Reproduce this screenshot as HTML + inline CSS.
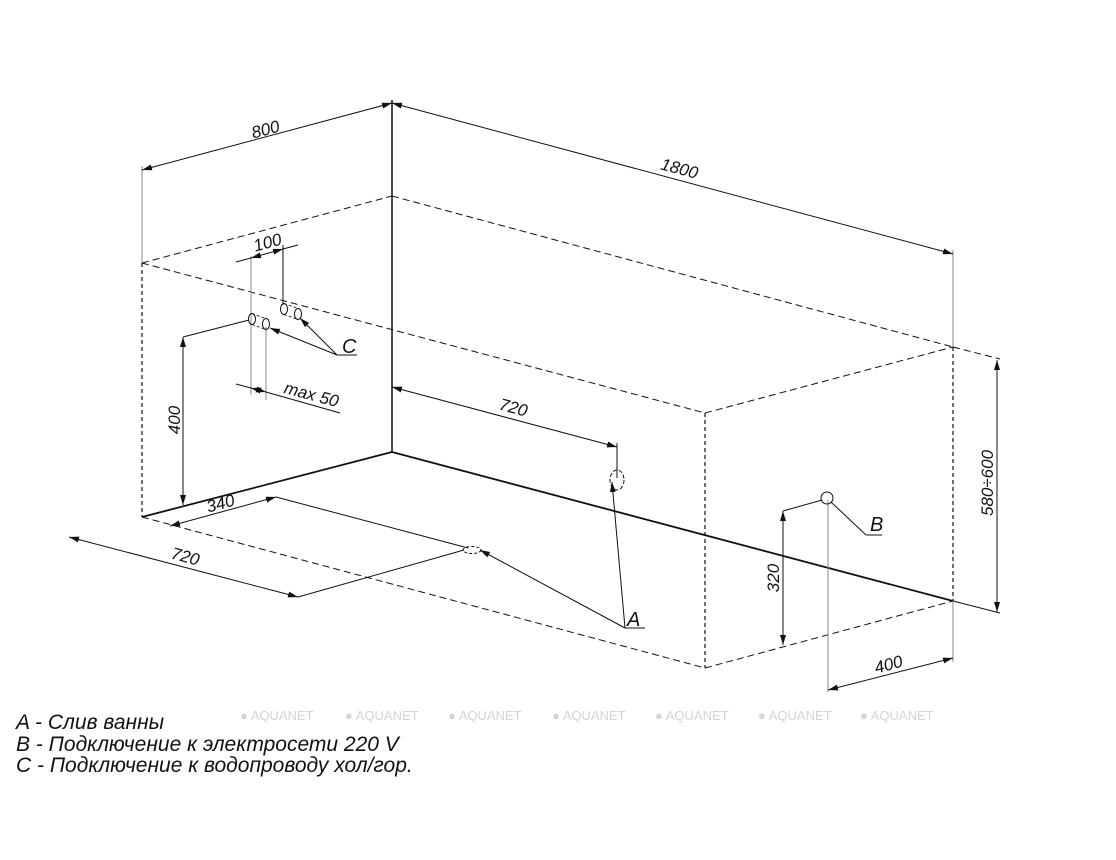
<!DOCTYPE html>
<html><head><meta charset="utf-8"><style>
html,body{margin:0;padding:0;background:#fff;}
svg{display:block;}
.t{font-family:"Liberation Sans",sans-serif;font-style:italic;fill:#111;}
.w{font-family:"Liberation Sans",sans-serif;fill:#d4d4d4;}
</style></head><body>
<svg width="1116" height="860" viewBox="0 0 1116 860" xmlns="http://www.w3.org/2000/svg">
<defs>
<marker id="ar" viewBox="0 0 10 6" refX="10" refY="3" markerWidth="10" markerHeight="6" orient="auto-start-reverse" markerUnits="userSpaceOnUse"><path d="M0,0 L10,3 L0,6 z" fill="#111"/></marker>
</defs>
<g stroke="#111" fill="none">
<g stroke-dasharray="7,4" stroke-width="1">
<line x1="142" y1="263" x2="392" y2="196"/>
<line x1="392" y1="196" x2="953" y2="347"/>
<line x1="142" y1="263" x2="705" y2="413"/>
<line x1="705" y1="413" x2="953" y2="347"/>
<line x1="142" y1="517" x2="705" y2="668"/>
<line x1="705" y1="668" x2="953" y2="601"/>
<line x1="953" y1="347" x2="1000" y2="359"/>
</g>
<g stroke-dasharray="4,3" stroke-width="1.2">
<line x1="142" y1="263" x2="142" y2="517"/>
<line x1="705" y1="413" x2="705" y2="668"/>
<line x1="953" y1="347" x2="953" y2="601"/>
</g>
<line x1="392" y1="100" x2="392" y2="452" stroke-width="1.5"/>
<line x1="142" y1="517" x2="392" y2="452" stroke-width="1.8"/>
<line x1="392" y1="452" x2="953" y2="601" stroke-width="1.8"/>
<line x1="953" y1="601" x2="1000" y2="613" stroke-width="1"/>
<line x1="142" y1="166" x2="142" y2="263" stroke="#888"/>
<line x1="953" y1="250" x2="953" y2="347" stroke="#888"/>
<line x1="953" y1="601" x2="953" y2="662" stroke="#888"/>
<line x1="828" y1="500" x2="828" y2="692" stroke="#888"/>
<line x1="251" y1="256" x2="251" y2="395" stroke="#888"/>
<line x1="266" y1="327" x2="266" y2="400" stroke="#888"/>
<line x1="283" y1="245" x2="283" y2="305"/>
<line x1="617" y1="443" x2="617" y2="478"/>
<line x1="142" y1="170" x2="392" y2="103" marker-start="url(#ar)" marker-end="url(#ar)"/>
<line x1="392" y1="103" x2="953" y2="254" marker-start="url(#ar)" marker-end="url(#ar)"/>
<line x1="997" y1="360" x2="997" y2="612" marker-start="url(#ar)" marker-end="url(#ar)"/>
<line x1="828" y1="690" x2="953" y2="658" marker-start="url(#ar)" marker-end="url(#ar)"/>
<line x1="783" y1="511" x2="783" y2="645" marker-start="url(#ar)" marker-end="url(#ar)"/>
<line x1="783" y1="511" x2="822" y2="500"/>
<line x1="392" y1="387" x2="617" y2="447" marker-start="url(#ar)" marker-end="url(#ar)"/>
<line x1="183" y1="337" x2="183" y2="505" marker-start="url(#ar)" marker-end="url(#ar)"/>
<line x1="183" y1="337" x2="249" y2="320"/>
<line x1="236" y1="262" x2="251" y2="258" />
<line x1="251" y1="258" x2="283" y2="249" marker-start="url(#ar)" marker-end="url(#ar)"/>
<line x1="283" y1="249" x2="298" y2="245"/>
<line x1="236" y1="384" x2="251" y2="388"/>
<line x1="251" y1="388" x2="266" y2="392" marker-start="url(#ar)" marker-end="url(#ar)"/>
<line x1="266" y1="392" x2="340" y2="413"/>
<line x1="170" y1="526" x2="276" y2="497" marker-start="url(#ar)" marker-end="url(#ar)"/>
<line x1="276" y1="497" x2="468" y2="548"/>
<line x1="69" y1="537" x2="298" y2="597" marker-start="url(#ar)" marker-end="url(#ar)"/>
<line x1="298" y1="597" x2="464" y2="550"/>
<ellipse cx="252" cy="319" rx="3.5" ry="5.5"/>
<ellipse cx="266" cy="324" rx="3.5" ry="5.5"/>
<ellipse cx="284" cy="309" rx="3.5" ry="5.5"/>
<ellipse cx="298" cy="314" rx="3.5" ry="5.5"/>
<g stroke-dasharray="3,2" stroke-width="0.8">
<line x1="252" y1="313.5" x2="266" y2="318.5"/><line x1="252" y1="324.5" x2="266" y2="329.5"/>
<line x1="284" y1="303.5" x2="298" y2="308.5"/><line x1="284" y1="314.5" x2="298" y2="319.5"/>
</g>
<line x1="337" y1="355" x2="270" y2="328" marker-end="url(#ar)"/>
<line x1="337" y1="355" x2="300" y2="318" marker-end="url(#ar)"/>
<line x1="337" y1="355" x2="357" y2="355"/>
<ellipse cx="617" cy="480" rx="7" ry="10" stroke-dasharray="4,2"/>
<ellipse cx="472" cy="550" rx="9" ry="3.5" stroke-dasharray="3,2"/>
<line x1="625" y1="628" x2="612" y2="482" marker-end="url(#ar)"/>
<line x1="625" y1="628" x2="480" y2="550" marker-end="url(#ar)"/>
<line x1="625" y1="628" x2="645" y2="628"/>
<circle cx="827" cy="498" r="6"/>
<line x1="831" y1="502" x2="866" y2="535"/>
<line x1="866" y1="535" x2="882" y2="535"/>
</g>
<g font-size="17" class="t">
<text class="t" transform="translate(267,135) rotate(-15)" text-anchor="middle">800</text>
<text class="t" transform="translate(678,174) rotate(15)" text-anchor="middle">1800</text>
<text class="t" transform="translate(269,248) rotate(-15)" text-anchor="middle">100</text>
<text class="t" transform="translate(310,400) rotate(15)" text-anchor="middle">max 50</text>
<text class="t" transform="translate(512,413) rotate(15)" text-anchor="middle">720</text>
<text class="t" transform="translate(180,420) rotate(-90)" text-anchor="middle">400</text>
<text class="t" transform="translate(222,509) rotate(-15)" text-anchor="middle">340</text>
<text class="t" transform="translate(184,562) rotate(15)" text-anchor="middle">720</text>
<text class="t" transform="translate(779,578) rotate(-90)" text-anchor="middle">320</text>
<text class="t" transform="translate(993,483) rotate(-90)" text-anchor="middle">580÷600</text>
<text class="t" transform="translate(890,670) rotate(-15)" text-anchor="middle">400</text>
<text class="t" x="342" y="353" font-size="20">C</text>
<text class="t" x="627" y="626" font-size="20">A</text>
<text class="t" x="870" y="531" font-size="20">B</text>
</g>
<g font-size="13">
<text class="w" x="240" y="720">● AQUANET</text>
<text class="w" x="345" y="720">● AQUANET</text>
<text class="w" x="448" y="720">● AQUANET</text>
<text class="w" x="552" y="720">● AQUANET</text>
<text class="w" x="655" y="720">● AQUANET</text>
<text class="w" x="758" y="720">● AQUANET</text>
<text class="w" x="860" y="720">● AQUANET</text>
</g>
<g font-size="21">
<text class="t" x="16" y="729">A - Слив ванны</text>
<text class="t" x="16" y="751">B - Подключение к электросети 220 V</text>
<text class="t" x="16" y="772">C - Подключение к водопроводу хол/гор.</text>
</g>
</svg>
</body></html>
